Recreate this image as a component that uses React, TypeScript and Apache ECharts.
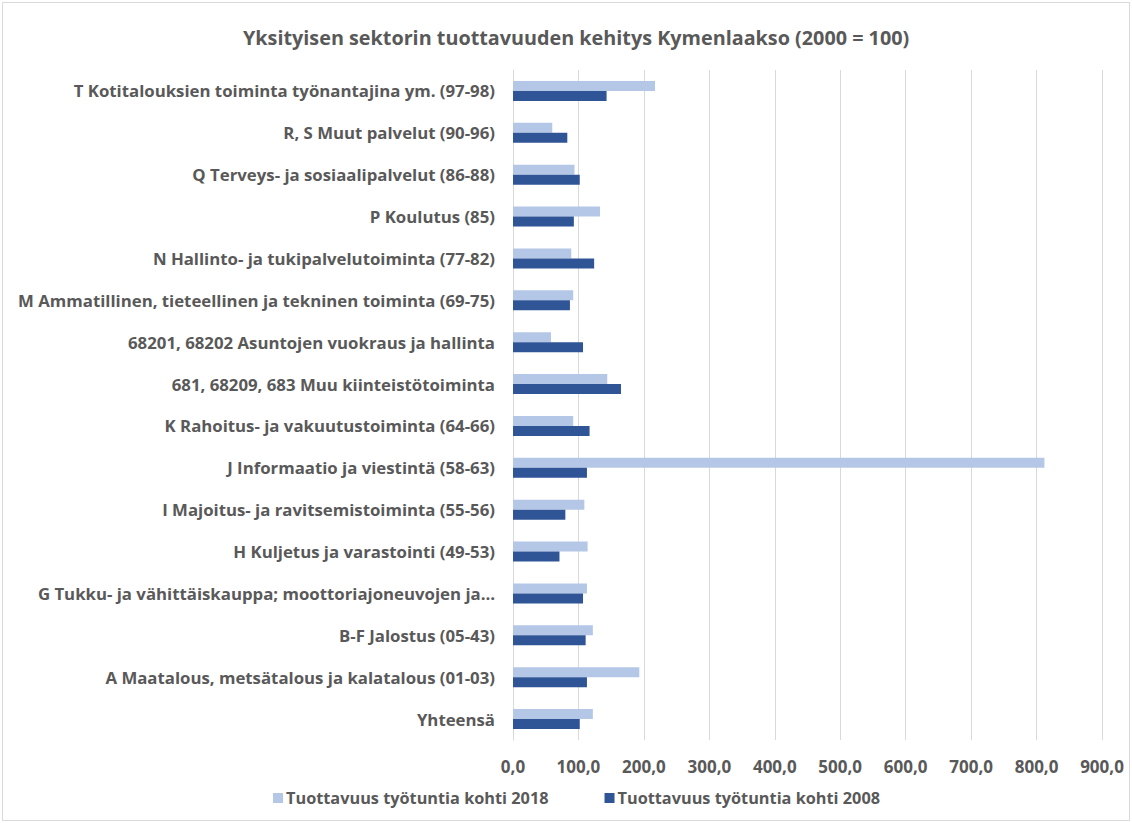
import React, { useEffect, useRef } from "react";
import * as echarts from "echarts";

const categories = [
  "T Kotitalouksien toiminta työnantajina ym. (97-98)",
  "R, S Muut palvelut (90-96)",
  "Q Terveys- ja sosiaalipalvelut (86-88)",
  "P Koulutus (85)",
  "N Hallinto- ja tukipalvelutoiminta (77-82)",
  "M Ammatillinen, tieteellinen ja tekninen toiminta (69-75)",
  "68201, 68202 Asuntojen vuokraus ja hallinta",
  "681, 68209, 683 Muu kiinteistötoiminta",
  "K Rahoitus- ja vakuutustoiminta (64-66)",
  "J Informaatio ja viestintä (58-63)",
  "I Majoitus- ja ravitsemistoiminta (55-56)",
  "H Kuljetus ja varastointi (49-53)",
  "G Tukku- ja vähittäiskauppa; moottoriajoneuvojen ja…",
  "B-F Jalostus (05-43)",
  "A Maatalous, metsätalous ja kalatalous (01-03)",
  "Yhteensä",
];

const values2018 = [217, 60, 94, 133, 89, 92, 58, 144, 92, 812, 109, 114, 113, 122, 193, 122];
const values2008 = [143, 83, 102, 93, 124, 87, 107, 165, 117, 113, 80, 71, 107, 111, 113, 102];

const seriesNames = ["Tuottavuus työtuntia kohti 2018", "Tuottavuus työtuntia kohti 2008"];
const chartTitle = "Yksityisen sektorin tuottavuuden kehitys Kymenlaakso (2000 = 100)";

const FONT = "'Open Sans', 'Noto Sans', sans-serif";
const TEXT = "#595959";

export default function App() {
  const ref = useRef<HTMLDivElement>(null);
  useEffect(() => {
    if (!ref.current) return;
    const chart = echarts.init(ref.current, undefined, { renderer: "svg" });
    chart.setOption({
      animation: false,
      backgroundColor: "#ffffff",
      textStyle: { fontFamily: FONT },
      title: {
        text: chartTitle,
        left: 238,
        top: 22,
        textStyle: { fontFamily: FONT, fontSize: 19.8, fontWeight: "bold", color: TEXT },
      },
      graphic: [
        {
          type: "rect",
          shape: { x: 2.5, y: 2.5, width: 1127, height: 818 },
          style: { fill: "none", stroke: "#d9d9d9", lineWidth: 1 },
          silent: true,
        },
      ],
      legend: {
        bottom: 12,
        left: 268,
        itemWidth: 10,
        itemHeight: 10,
        itemGap: 56,
        icon: "rect",
        textStyle: { fontFamily: FONT, fontSize: 16.3, fontWeight: "bold", color: TEXT, padding: [0, 0, 0, -2] },
        data: seriesNames,
      },
      grid: { left: 513, right: 30, top: 70, bottom: 83, containLabel: false },
      xAxis: {
        type: "value",
        min: 0,
        max: 900,
        interval: 100,
        axisLine: { show: false },
        axisTick: { show: false },
        splitLine: { show: true, lineStyle: { color: "#d9d9d9", width: 1 } },
        axisLabel: {
          margin: 18,
          fontFamily: FONT,
          fontSize: 17,
          fontWeight: "bold",
          color: TEXT,
          formatter: (v: number) => v.toFixed(1).replace(".", ","),
        },
      },
      yAxis: {
        type: "category",
        inverse: true,
        data: categories,
        axisLine: { show: true, lineStyle: { color: "#d9d9d9" } },
        axisTick: { show: false },
        axisLabel: {
          margin: 18,
          fontFamily: FONT,
          fontSize: 16.8,
          fontWeight: "bold",
          color: TEXT,
        },
      },
      series: [
        {
          name: seriesNames[0],
          type: "bar",
          data: values2018,
          barWidth: 10,
          barGap: "0%",
          itemStyle: { color: "#b4c7e7" },
        },
        {
          name: seriesNames[1],
          type: "bar",
          data: values2008,
          barWidth: 10,
          barGap: "0%",
          itemStyle: { color: "#2f5597" },
        },
      ],
    });
    return () => chart.dispose();
  }, []);
  return (
    <div
      ref={ref}
      style={{ position: "fixed", left: 0, top: 0, width: 1132, height: 823 }}
    />
  );
}
